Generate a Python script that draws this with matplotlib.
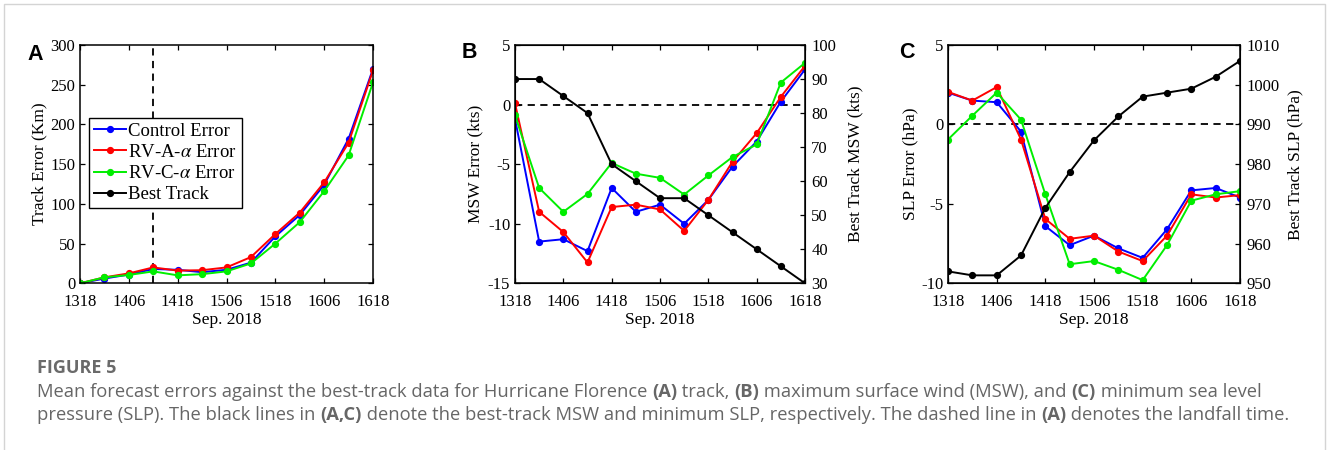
import matplotlib
matplotlib.use("Agg")
import matplotlib.pyplot as plt
from matplotlib.lines import Line2D
from matplotlib.patches import Rectangle
import numpy as np

# forecast times (ddhh, Sep. 2018), every 6 h
times = ["1318", "1400", "1406", "1412", "1418", "1500", "1506",
         "1512", "1518", "1600", "1606", "1612", "1618"]
landfall = "1412"

# (A) track error, km
track_ctrl = [0, 6, 11, 18, 17, 14, 17, 26, 59, 86, 124, 182, 270]
track_rva = [0, 7.5, 12.5, 20, 16, 16.5, 20, 33, 62, 89, 127, 177, 268]
track_rvc = [0, 7.5, 10.5, 15, 10, 11.5, 15, 25, 50, 77, 116, 161, 253]

# (B) MSW error, kts, and best-track MSW
msw_ctrl = [-1.2, -11.5, -11.3, -12.3, -7.0, -9.0, -8.4, -10.0, -8.0, -5.2, -3.1, 0.25, 2.95]
msw_rva = [0.1, -9.0, -10.7, -13.25, -8.6, -8.4, -8.8, -10.6, -8.0, -4.8, -2.4, 0.65, 3.25]
msw_rvc = [-0.9, -7.0, -9.0, -7.5, -4.9, -5.8, -6.15, -7.55, -5.95, -4.4, -3.35, 1.85, 3.5]
msw_best = [90, 90, 85, 80, 65, 60, 55, 55, 50, 45, 40, 35, 30]

# (C) SLP error, hPa, and best-track SLP
slp_ctrl = [2.0, 1.5, 1.4, -0.45, -6.4, -7.6, -7.0, -7.8, -8.4, -6.6, -4.15, -4.0, -4.6]
slp_rva = [2.05, 1.5, 2.35, -0.95, -5.95, -7.2, -7.0, -8.0, -8.6, -7.0, -4.4, -4.6, -4.45]
slp_rvc = [-0.95, 0.55, 2.0, 0.3, -4.4, -8.8, -8.6, -9.15, -9.8, -7.6, -4.8, -4.4, -4.2]
slp_best = [953, 952, 952, 957, 969, 978, 986, 992, 997, 998, 999, 1002, 1006]

caption_title = "FIGURE 5"
caption_lines = [
    [("Mean forecast errors against the best-track data for Hurricane Florence ", False),
     ("(A)", True), (" track, ", False), ("(B)", True),
     (" maximum surface wind (MSW), and ", False), ("(C)", True),
     (" minimum sea level", False)],
    [("pressure (SLP). The black lines in ", False), ("(A,C)", True),
     (" denote the best-track MSW and minimum SLP, respectively. The dashed line in ", False),
     ("(A)", True), (" denotes the landfall time.", False)],
]

C_CTRL = "#0000ff"
C_RVA = "#ff0000"
C_RVC = "#00ee00"
SERIF = "Liberation Serif"
TICK_FS = 12
LABEL_FS = 12.5
W, H = 1328, 450

plt.rcParams["font.family"] = SERIF
plt.rcParams["mathtext.fontset"] = "stix"
plt.rcParams["axes.unicode_minus"] = False

fig = plt.figure(figsize=(W / 100, H / 100), dpi=100)
fig.patches.append(Rectangle((4 / W, -0.02), (W - 7) / W, 1.02 - 4 / H,
                             transform=fig.transFigure, fill=False,
                             edgecolor="#d4d4d4", lw=1.0))

x = np.arange(len(times))
line_kw = dict(lw=1.4, marker="o", ms=4.2)


def px_axes(left, right, top=45, bottom=283.3):
    return fig.add_axes([left / W, 1 - bottom / H, (right - left) / W, (bottom - top) / H])


def style_axes(ax):
    ax.set_xlim(0, len(times) - 1)
    ax.set_xticks(x[::2])
    ax.set_xticklabels(times[::2])
    ax.tick_params(direction="in", length=3.5, width=0.9, labelsize=TICK_FS, top=True)
    ax.tick_params(axis="x", pad=7.5)
    ax.tick_params(axis="y", pad=3.5)
    for s in ax.spines.values():
        s.set_linewidth(1.1)
    ax.set_xlabel("Sep. 2018", fontsize=LABEL_FS, labelpad=2)


def style_twin(ax, pad):
    ax.tick_params(direction="in", length=3.5, width=0.9, labelsize=TICK_FS, pad=4.5)
    ax.yaxis.labelpad = pad


def panel_letter(letter, xpx, ypx):
    fig.text(xpx / W, 1 - ypx / H, letter, family="Liberation Sans", weight="bold",
             fontsize=15.5, va="center", ha="left")


# ---- A: track error
axA = px_axes(80, 373)
axA.plot(x, track_ctrl, color=C_CTRL, **line_kw)
axA.plot(x, track_rva, color=C_RVA, **line_kw)
axA.plot(x, track_rvc, color=C_RVC, **line_kw)
axA.axvline(times.index(landfall), color="k", ls=(0, (4, 3)), lw=1.3, zorder=0)
axA.set_ylim(0, 300)
axA.set_yticks(np.arange(0, 301, 50))
style_axes(axA)
axA.tick_params(right=True)
axA.set_ylabel("Track Error (Km)", fontsize=LABEL_FS, labelpad=2)
handles = [Line2D([], [], color=c, **line_kw) for c in (C_CTRL, C_RVA, C_RVC, "k")]
leg = axA.legend(handles, ["Control Error", r"RV-A-$\alpha$ Error", r"RV-C-$\alpha$ Error", "Best Track"],
                 loc="upper left", bbox_to_anchor=(0.031, 0.694), borderaxespad=0,
                 fontsize=13.5, frameon=True, fancybox=False, framealpha=1,
                 edgecolor="k", handlelength=1.7, handletextpad=0.15,
                 labelspacing=0.22, borderpad=0.25)
leg.get_frame().set_linewidth(1.0)
panel_letter("A", 27, 54)

# ---- B: MSW
axB = px_axes(515, 805)
axB.plot(x, msw_ctrl, color=C_CTRL, **line_kw)
axB.plot(x, msw_rva, color=C_RVA, **line_kw)
axB.plot(x, msw_rvc, color=C_RVC, **line_kw)
axB.axhline(0, color="k", ls=(0, (4, 3)), lw=1.3, zorder=0)
axB.set_ylim(-15, 5)
axB.set_yticks(np.arange(-15, 6, 5))
style_axes(axB)
axB.set_ylabel("MSW Error (kts)", fontsize=LABEL_FS, labelpad=3)
axB2 = axB.twinx()
axB2.plot(x, msw_best, color="k", **line_kw)
axB2.set_ylim(30, 100)
axB2.set_yticks(np.arange(30, 101, 10))
axB2.set_ylabel("Best Track MSW (kts)", fontsize=LABEL_FS)
style_twin(axB2, 8)
panel_letter("B", 462, 52)

# ---- C: SLP
axC = px_axes(948, 1240)
axC.plot(x, slp_ctrl, color=C_CTRL, **line_kw)
axC.plot(x, slp_rva, color=C_RVA, **line_kw)
axC.plot(x, slp_rvc, color=C_RVC, **line_kw)
axC.axhline(0, color="k", ls=(0, (4, 3)), lw=1.3, zorder=0)
axC.set_ylim(-10, 5)
axC.set_yticks(np.arange(-10, 6, 5))
style_axes(axC)
axC.set_ylabel("SLP Error (hPa)", fontsize=LABEL_FS, labelpad=2)
axC2 = axC.twinx()
axC2.plot(x, slp_best, color="k", **line_kw)
axC2.set_ylim(950, 1010)
axC2.set_yticks(np.arange(950, 1011, 10))
axC2.set_ylabel("Best Track SLP (hPa)", fontsize=LABEL_FS)
style_twin(axC2, 5.5)
panel_letter("C", 899, 52)

# ---- caption
CAP_FONT = "Open Sans"
CAP_FS = 13.2
CAP_COLOR = "#666666"
renderer = fig.canvas.get_renderer()


def seg_width(s, bold):
    kw = dict(family=CAP_FONT, fontsize=CAP_FS, weight="bold" if bold else "normal")
    t1 = fig.text(0, 0, "|" + s + "|", **kw)
    t2 = fig.text(0, 0, "||", **kw)
    w = t1.get_window_extent(renderer).width - t2.get_window_extent(renderer).width
    t1.remove()
    t2.remove()
    return w


fig.text(37 / W, 1 - 373 / H, caption_title, family=CAP_FONT, fontsize=13,
         weight="bold", color="#6a6a6a", va="baseline")
for row, baseline in zip(caption_lines, (397, 420)):
    xpos = 37.0
    for s, bold in row:
        fig.text(xpos / W, 1 - baseline / H, s, family=CAP_FONT, fontsize=CAP_FS,
                 weight="bold" if bold else "normal", color=CAP_COLOR, va="baseline")
        xpos += seg_width(s, bold)

fig.savefig("out.png", dpi=100)
